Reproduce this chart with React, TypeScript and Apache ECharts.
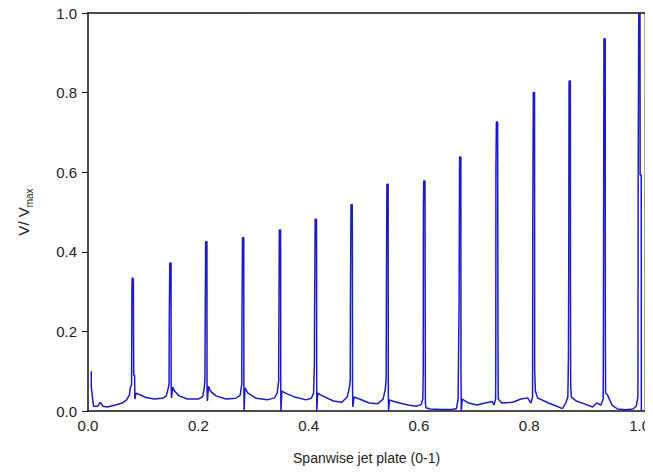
import React, { useEffect, useRef } from "react";
import * as echarts from "echarts";

const xTicks = [0, 0.2, 0.4, 0.6, 0.8, 1.0];
const yTicks = [0, 0.2, 0.4, 0.6, 0.8, 1.0];

// Peak heights (one per jet)
const peakCenters = [0.0812, 0.1498, 0.2148, 0.2816, 0.3484, 0.4134, 0.4783, 0.5433, 0.6101, 0.6751, 0.7419, 0.8087, 0.8736, 0.9368, 1.0];
const peakHeights = [0.335, 0.372, 0.425, 0.435, 0.455, 0.482, 0.518, 0.57, 0.578, 0.638, 0.726, 0.8, 0.829, 0.935, 1.0];

// Full traced profile [x, V/Vmax]
const profile: [number, number][] = [
  [0.006, 0.10], [0.006, 0.06], [0.010, 0.012], [0.018, 0.012], [0.022, 0.022], [0.027, 0.012], [0.035, 0.010], [0.050, 0.015], [0.062, 0.020], [0.070, 0.028], [0.075, 0.040], [0.077, 0.060],
  // P1
  [0.0790, 0.065], [0.0797, 0.32], [0.0805, 0.335], [0.0822, 0.33], [0.0829, 0.09], [0.0845, 0.09], [0.0850, 0.03], [0.087, 0.045], [0.092, 0.042], [0.105, 0.034], [0.120, 0.030], [0.135, 0.032], [0.142, 0.038], [0.146, 0.06],
  // P2
  [0.1470, 0.07], [0.1473, 0.21], [0.1481, 0.21], [0.1483, 0.372], [0.1506, 0.372], [0.1508, 0.06], [0.1514, 0.033], [0.1535, 0.06], [0.157, 0.05], [0.165, 0.038], [0.180, 0.030], [0.200, 0.030], [0.208, 0.036], [0.211, 0.06],
  // P3
  [0.2120, 0.08], [0.2123, 0.16], [0.2131, 0.16], [0.2133, 0.425], [0.2156, 0.425], [0.2158, 0.06], [0.2164, 0.025], [0.2185, 0.062], [0.222, 0.05], [0.232, 0.038], [0.250, 0.030], [0.268, 0.032], [0.276, 0.04], [0.279, 0.07],
  // P4
  [0.2788, 0.09], [0.2791, 0.22], [0.2799, 0.22], [0.2801, 0.435], [0.2824, 0.435], [0.2826, 0.07], [0.2830, 0.0], [0.2846, 0.058], [0.290, 0.045], [0.305, 0.032], [0.325, 0.028], [0.338, 0.033], [0.343, 0.045], [0.346, 0.08],
  // P5
  [0.3456, 0.085], [0.3459, 0.17], [0.3467, 0.17], [0.3469, 0.455], [0.3492, 0.455], [0.3494, 0.07], [0.3498, 0.0], [0.3514, 0.05], [0.358, 0.045], [0.375, 0.035], [0.395, 0.028], [0.405, 0.032], [0.409, 0.045], [0.4105, 0.12],
  // P6
  [0.4108, 0.25], [0.4117, 0.25], [0.4119, 0.482], [0.4142, 0.482], [0.4144, 0.41], [0.4147, 0.0], [0.4164, 0.045], [0.425, 0.038], [0.445, 0.025], [0.460, 0.022], [0.470, 0.035], [0.474, 0.06], [0.4755, 0.078],
  // P7
  [0.4758, 0.27], [0.4766, 0.27], [0.4768, 0.518], [0.4791, 0.518], [0.4793, 0.43], [0.4796, 0.06], [0.4801, 0.01], [0.4822, 0.035], [0.492, 0.030], [0.510, 0.020], [0.525, 0.018], [0.535, 0.030], [0.539, 0.055], [0.5405, 0.08],
  // P8
  [0.5411, 0.32], [0.5417, 0.32], [0.5419, 0.57], [0.5442, 0.57], [0.5444, 0.07], [0.5449, 0.0], [0.5465, 0.028], [0.552, 0.025], [0.565, 0.020], [0.580, 0.015], [0.595, 0.012], [0.604, 0.016], [0.607, 0.03],
  // P9
  [0.6078, 0.10], [0.6081, 0.513], [0.6085, 0.513], [0.6087, 0.578], [0.6110, 0.578], [0.6112, 0.36], [0.6117, 0.02], [0.6128, 0.008], [0.620, 0.005], [0.640, 0.004], [0.660, 0.004], [0.668, 0.006], [0.671, 0.03],
  // P10
  [0.6728, 0.27], [0.6735, 0.27], [0.6737, 0.638], [0.6760, 0.638], [0.6762, 0.10], [0.6767, 0.0], [0.6785, 0.03], [0.690, 0.020], [0.705, 0.015], [0.720, 0.020], [0.733, 0.024], [0.736, 0.015], [0.739, 0.03],
  // P11
  [0.7393, 0.10], [0.7396, 0.61], [0.7402, 0.61], [0.7404, 0.726], [0.7427, 0.726], [0.7429, 0.50], [0.7433, 0.17], [0.7438, 0.03], [0.750, 0.020], [0.770, 0.022], [0.785, 0.030], [0.797, 0.033], [0.803, 0.020], [0.806, 0.035],
  // P12
  [0.8061, 0.10], [0.8064, 0.475], [0.8071, 0.475], [0.8073, 0.80], [0.8096, 0.80], [0.8098, 0.10], [0.8104, 0.078], [0.8111, 0.05], [0.815, 0.033], [0.835, 0.020], [0.850, 0.012], [0.860, 0.006], [0.866, 0.020], [0.870, 0.035],
  // P13
  [0.8711, 0.145], [0.8715, 0.335], [0.8720, 0.335], [0.8722, 0.829], [0.8745, 0.829], [0.8747, 0.30], [0.8751, 0.06], [0.8765, 0.035], [0.885, 0.025], [0.900, 0.018], [0.915, 0.010], [0.922, 0.020], [0.930, 0.015], [0.934, 0.03],
  // P14
  [0.9343, 0.135], [0.9347, 0.38], [0.9352, 0.38], [0.9354, 0.935], [0.9377, 0.935], [0.9379, 0.20], [0.9384, 0.045], [0.942, 0.040], [0.950, 0.015], [0.960, 0.005], [0.975, 0.003], [0.988, 0.005], [0.994, 0.012], [0.997, 0.035],
  // P15
  [0.9975, 0.593], [0.9983, 0.593], [0.9985, 1.0], [1.0008, 1.0], [1.0010, 0.593], [1.0030, 0.593], [1.0032, 0.0],
];

export default function App() {
  const ref = useRef<HTMLDivElement>(null);
  useEffect(() => {
    if (!ref.current) return;
    const chart = echarts.init(ref.current, null, { renderer: "svg" });
    const font = "'Liberation Sans', Arial, sans-serif";
    chart.setOption({
      animation: false,
      backgroundColor: "#ffffff",
      grid: { left: 88, right: 6, top: 13, bottom: 65 },
      xAxis: [
        {
          type: "value",
          min: 0,
          max: 1.01,
          interval: 0.2,
          position: "bottom",
          name: "Spanwise jet plate (0-1)",
          nameLocation: "middle",
          nameGap: 40,
          nameTextStyle: { fontFamily: font, fontSize: 14, color: "#222" },
          axisLine: { show: true, onZero: false, lineStyle: { color: "#111", width: 1.5 } },
          axisTick: { show: false },
          splitLine: { show: false },
          axisLabel: {
            fontFamily: font,
            fontSize: 15,
            color: "#222",
            margin: 7,
            formatter: (v: number) => (xTicks.some((t) => Math.abs(t - v) < 1e-6) ? v.toFixed(1) : ""),
          },
        },
        {
          type: "value",
          min: 0,
          max: 1.01,
          position: "top",
          axisLine: { show: true, onZero: false, lineStyle: { color: "#111", width: 1.5 } },
          axisTick: { show: false },
          axisLabel: { show: false },
          splitLine: { show: false },
        },
      ],
      yAxis: [
        {
          type: "value",
          min: 0,
          max: 1.0,
          interval: 0.2,
          position: "left",
          name: "{a|V/ V}{b|max}",
          nameLocation: "middle",
          nameGap: 54,
          nameRotate: 90,
          nameTextStyle: {
            fontFamily: font,
            color: "#222",
            rich: {
              a: { fontFamily: font, fontSize: 15, color: "#222", lineHeight: 22, verticalAlign: "middle" },
              b: { fontFamily: font, fontSize: 10, color: "#222", lineHeight: 10, verticalAlign: "bottom" },
            },
          },
          axisLine: { show: true, onZero: false, lineStyle: { color: "#111", width: 1.5 } },
          axisTick: { show: true, inside: false, length: 6, lineStyle: { color: "#111" } },
          splitLine: { show: false },
          axisLabel: {
            fontFamily: font,
            fontSize: 15,
            color: "#222",
            margin: 11,
            formatter: (v: number) => (yTicks.some((t) => Math.abs(t - v) < 1e-6) ? v.toFixed(1) : ""),
          },
        },
        {
          type: "value",
          min: 0,
          max: 1.0,
          position: "right",
          axisLine: { show: true, onZero: false, lineStyle: { color: "#888", width: 1.5 } },
          axisTick: { show: false },
          axisLabel: { show: false },
          splitLine: { show: false },
        },
      ],
      series: [
        {
          type: "line",
          name: "profile",
          data: profile,
          showSymbol: false,
          symbol: "none",
          clip: true,
          lineStyle: { color: "#1a1ac8", width: 1.5 },
        },
        {
          type: "scatter",
          name: "peaks",
          data: peakCenters.map((x, i) => [x, peakHeights[i]]),
          symbolSize: 0,
          silent: true,
        },
      ],
    });
    return () => chart.dispose();
  }, []);
  return <div ref={ref} style={{ width: 653, height: 476, marginLeft: -8, marginTop: -8 }} />;
}
